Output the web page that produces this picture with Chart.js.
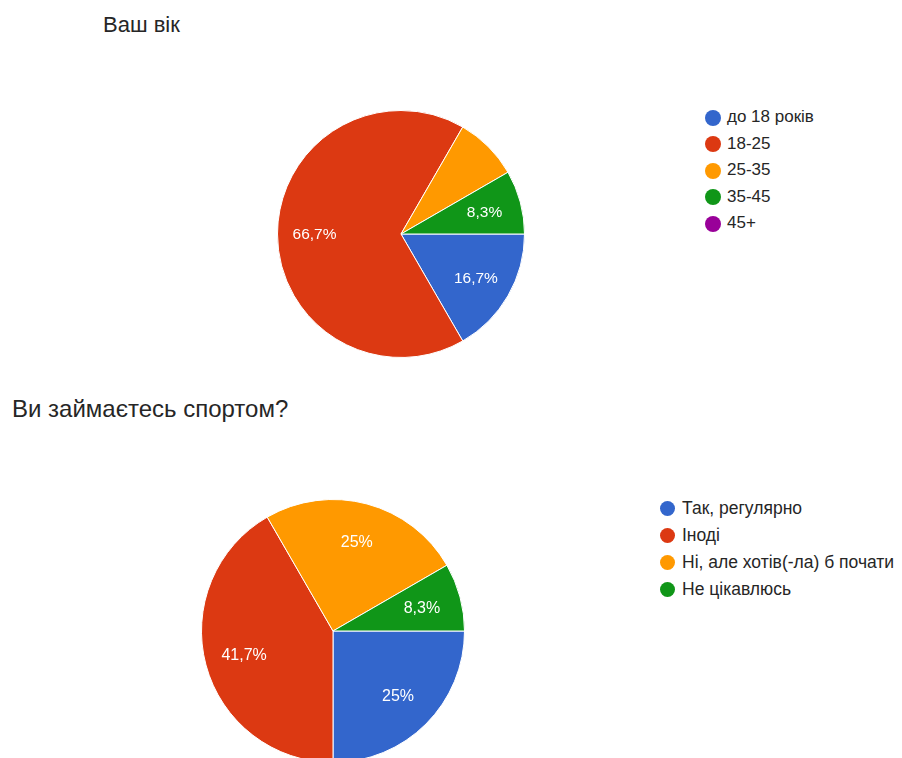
<!DOCTYPE html>
<html>
  <head>
    <meta charset="utf-8">
    <script src="https://cdn.jsdelivr.net/npm/chart.js"></script>
    <title>Опитування</title>
    <style>
      html, body {
        margin: 0;
        padding: 0;
        width: 902px;
        height: 758px;
        overflow: hidden;
        background: #fff;
        font-family: "Liberation Sans", Arial, sans-serif;
        color: #262626;
      }
      .title {
        position: absolute;
        white-space: nowrap;
      }
      .pie {
        position: absolute;
      }
      .legend {
        position: absolute;
      }
      .legend div {
        position: relative;
        white-space: nowrap;
      }
      .legend span {
        position: absolute;
        left: 0;
        border-radius: 50%;
      }
      #ageLegend { font-size: 17px; }
      #ageLegend div { height: 26.5px; line-height: 26.5px; padding-left: 22px; }
      #ageLegend span { top: 5.5px; width: 16px; height: 16px; }
      #sportLegend { font-size: 17.5px; }
      #sportLegend div { height: 27px; line-height: 27px; padding-left: 22px; }
      #sportLegend span { top: 6px; width: 15px; height: 15px; }
    </style>
  </head>
  <body>
    <div class="title" style="left:103px; top:14px; font-size:22px; line-height:22px;">Ваш вік</div>
    <div class="pie" style="left:275px; top:108px; width:252px; height:252px;"><canvas id="ageChart"></canvas></div>
    <div class="legend" id="ageLegend" style="left:705px; top:104px;"></div>

    <div class="title" style="left:12px; top:397px; font-size:24px; line-height:24px;">Ви займаєтесь спортом?</div>
    <div class="pie" style="left:199px; top:497px; width:268px; height:268px;"><canvas id="sportChart"></canvas></div>
    <div class="legend" id="sportLegend" style="left:660px; top:494.5px;"></div>

    <script>
      // Google Forms colours
      var colors = ['#3366cc', '#dc3912', '#ff9900', '#109618', '#990099'];

      // Ваш вік
      var ageLabels = ['до 18 років', '18-25', '25-35', '35-45', '45+'];
      var ageCounts = [2, 8, 1, 1, 0];
      var agePercents = ['16,7%', '66,7%', '', '8,3%', ''];

      // Ви займаєтесь спортом?
      var sportLabels = ['Так, регулярно', 'Іноді', 'Ні, але хотів(-ла) б почати', 'Не цікавлюсь'];
      var sportCounts = [3, 5, 3, 1];
      var sportPercents = ['25%', '41,7%', '25%', '8,3%'];

      // draws the percent text inside each slice
      var sliceLabels = {
        id: 'sliceLabels',
        afterDatasetsDraw: function(chart, args, opts) {
          var ctx = chart.ctx;
          var meta = chart.getDatasetMeta(0);
          ctx.save();
          ctx.fillStyle = '#fff';
          ctx.font = opts.size + 'px "Liberation Sans", Arial, sans-serif';
          ctx.textAlign = 'center';
          ctx.textBaseline = 'middle';
          meta.data.forEach(function(arc, i) {
            var txt = opts.texts[i];
            if (!txt) return;
            var p = arc.getProps(['x', 'y', 'startAngle', 'endAngle', 'outerRadius'], true);
            var mid = (p.startAngle + p.endAngle) / 2;
            var r = p.outerRadius * 0.7;
            ctx.fillText(txt, p.x + Math.cos(mid) * r, p.y + Math.sin(mid) * r + 1);
          });
          ctx.restore();
        }
      };

      function makePie(id, labels, counts, texts, size) {
        return new Chart(document.getElementById(id), {
          type: 'pie',
          data: {
            labels: labels,
            datasets: [{
              data: counts,
              backgroundColor: colors.slice(0, counts.length),
              borderColor: '#fff',
              borderWidth: 1
            }]
          },
          options: {
            responsive: true,
            maintainAspectRatio: false,
            animation: false,
            rotation: 90,
            layout: { padding: 2 },
            plugins: {
              legend: { display: false },
              tooltip: { enabled: false },
              sliceLabels: { texts: texts, size: size }
            }
          },
          plugins: [sliceLabels]
        });
      }

      function makeLegend(id, labels) {
        var box = document.getElementById(id);
        labels.forEach(function(l, i) {
          var row = document.createElement('div');
          var dot = document.createElement('span');
          dot.style.background = colors[i];
          row.appendChild(dot);
          row.appendChild(document.createTextNode(l));
          box.appendChild(row);
        });
      }

      makePie('ageChart', ageLabels, ageCounts, agePercents, 15.5);
      makePie('sportChart', sportLabels, sportCounts, sportPercents, 16);
      makeLegend('ageLegend', ageLabels);
      makeLegend('sportLegend', sportLabels);
    </script>
  </body>
</html>
